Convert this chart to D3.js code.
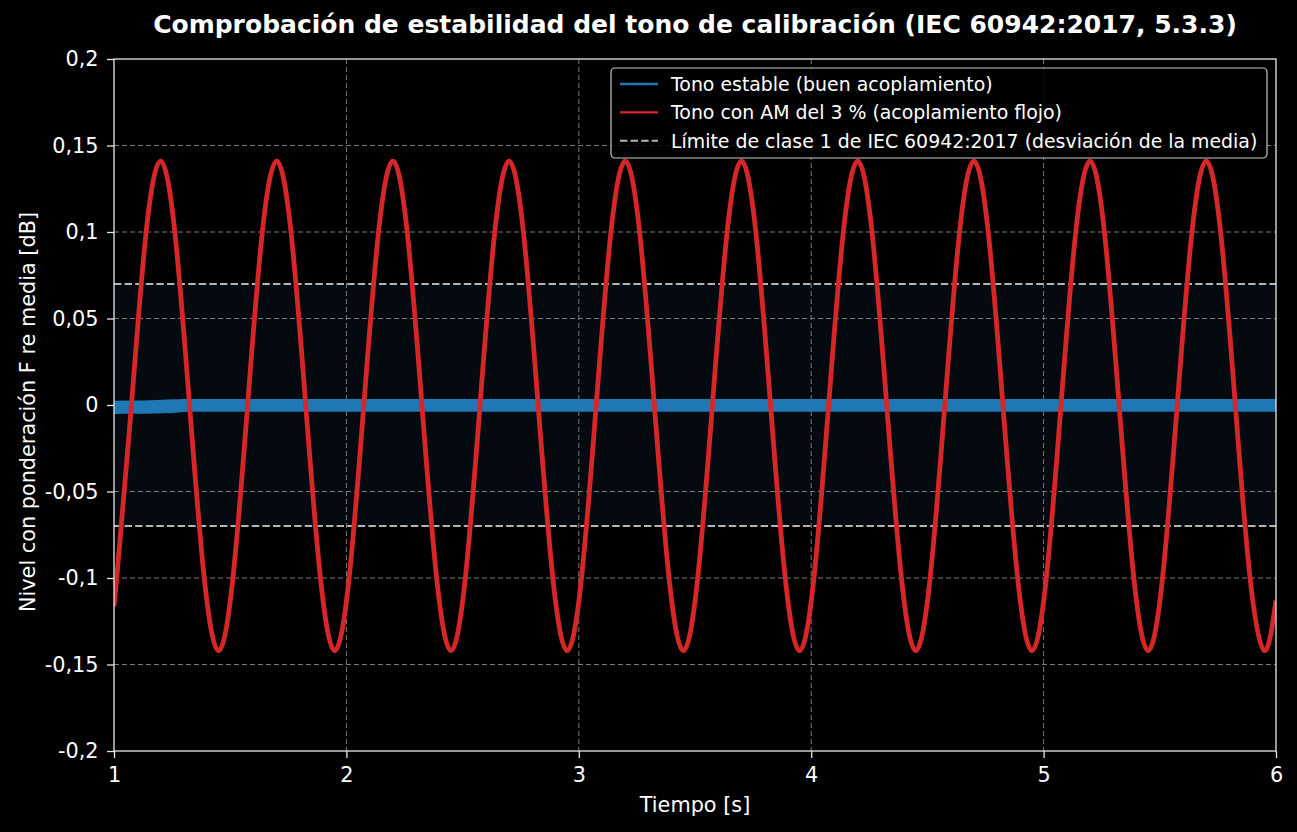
<!DOCTYPE html>
<html><head><meta charset="utf-8">
<script src="https://cdn.jsdelivr.net/npm/d3@7"></script>
<style>
html,body{margin:0;padding:0;background:#000;}
svg{display:block;font-family:"DejaVu Sans",sans-serif;}
</style></head>
<body><svg id="c" width="1297" height="832"></svg>
<script>
// ---- data ----
const amTime = [1.0,
 1.0125,1.075,1.1375,1.2,1.2625,1.325,1.3875,1.45,
 1.5125,1.575,1.6375,1.7,1.7625,1.825,1.8875,1.95,
 2.0125,2.075,2.1375,2.2,2.2625,2.325,2.3875,2.45,
 2.5125,2.575,2.6375,2.7,2.7625,2.825,2.8875,2.95,
 3.0125,3.075,3.1375,3.2,3.2625,3.325,3.3875,3.45,
 3.5125,3.575,3.6375,3.7,3.7625,3.825,3.8875,3.95,
 4.0125,4.075,4.1375,4.2,4.2625,4.325,4.3875,4.45,
 4.5125,4.575,4.6375,4.7,4.7625,4.825,4.8875,4.95,
 5.0125,5.075,5.1375,5.2,5.2625,5.325,5.3875,5.45,
 5.5125,5.575,5.6375,5.7,5.7625,5.825,5.8875,5.95,
 6.0];
const amLevel = [-0.114,
 -0.099,0,0.099,0.141,0.099,0,-0.099,-0.142,
 -0.099,0,0.099,0.141,0.099,0,-0.099,-0.142,
 -0.099,0,0.099,0.141,0.099,0,-0.099,-0.142,
 -0.099,0,0.099,0.141,0.099,0,-0.099,-0.142,
 -0.099,0,0.099,0.141,0.099,0,-0.099,-0.142,
 -0.099,0,0.099,0.141,0.099,0,-0.099,-0.142,
 -0.099,0,0.099,0.141,0.099,0,-0.099,-0.142,
 -0.099,0,0.099,0.141,0.099,0,-0.099,-0.142,
 -0.099,0,0.099,0.141,0.099,0,-0.099,-0.142,
 -0.099,0,0.099,0.141,0.099,0,-0.099,-0.142,
 -0.113];
const stableTime  = [1.0, 1.12, 1.25, 1.3, 1.33, 6.0];
const stableUpper = [0.0025, 0.0026, 0.0033, 0.0035, 0.0035, 0.0035];
const stableLower = [-0.0052, -0.0051, -0.0046, -0.0041, -0.0039, -0.0039];
const classLimit = 0.07;
const xTicks = [1, 2, 3, 4, 5, 6];
const yTicks = [-0.2, -0.15, -0.1, -0.05, 0, 0.05, 0.1, 0.15, 0.2];
const legendLabels = [
 "Tono estable (buen acoplamiento)",
 "Tono con AM del 3 % (acoplamiento flojo)",
 "Límite de clase 1 de IEC 60942:2017 (desviación de la media)"];
const titleText = "Comprobación de estabilidad del tono de calibración (IEC 60942:2017, 5.3.3)";
const xLabel = "Tiempo [s]";
const yLabel = "Nivel con ponderación F re media [dB]";

// ---- layout ----
const W = 1297, H = 832;
const m = {left:114, right:1276, top:59, bottom:751};
const svg = d3.select("#c");
svg.append("rect").attr("width",W).attr("height",H).attr("fill","#000");

const x = d3.scaleLinear().domain([1,6]).range([m.left,m.right]);
const y = d3.scaleLinear().domain([-0.2,0.2]).range([m.bottom,m.top]);
const fmt = v => (Math.abs(v)<1e-9 ? "0" : String(+v.toFixed(2)).replace(".",","));

const clipId = "clipPlot";
svg.append("clipPath").attr("id",clipId).append("rect")
  .attr("x",m.left).attr("y",m.top).attr("width",m.right-m.left).attr("height",m.bottom-m.top);

// tolerance band
svg.append("rect").attr("x",m.left).attr("width",m.right-m.left)
  .attr("y",y(classLimit)).attr("height",y(-classLimit)-y(classLimit))
  .attr("fill","#050a10");

// grid
const grid = svg.append("g").attr("stroke","#7a7a7a").attr("stroke-width",1).attr("stroke-dasharray","5,3");
xTicks.forEach(t=>{ if(t>1&&t<6) grid.append("line").attr("x1",x(t)).attr("x2",x(t)).attr("y1",m.top).attr("y2",m.bottom);});
yTicks.forEach(t=>{ if(t>-0.2&&t<0.2) grid.append("line").attr("x1",m.left).attr("x2",m.right).attr("y1",y(t)).attr("y2",y(t));});

// class limit lines
[classLimit,-classLimit].forEach(v=>{
  svg.append("line").attr("x1",m.left).attr("x2",m.right).attr("y1",y(v)).attr("y2",y(v))
    .attr("stroke","#b4b4b4").attr("stroke-width",2).attr("stroke-dasharray","7.4,3.2");
});

const plot = svg.append("g").attr("clip-path",`url(#${clipId})`);
// stable tone band
const stableData = stableTime.map((t,i)=>({t,u:stableUpper[i],l:stableLower[i]}));
plot.append("path").datum(stableData)
  .attr("d", d3.area().x(d=>x(d.t)).y0(d=>y(d.l)).y1(d=>y(d.u)).curve(d3.curveMonotoneX))
  .attr("fill","#1f77b4");
// AM tone
const amData = amTime.map((t,i)=>({t,v:amLevel[i]}));
plot.append("path").datum(amData)
  .attr("d", d3.line().x(d=>x(d.t)).y(d=>y(d.v)).curve(d3.curveNatural))
  .attr("fill","none").attr("stroke","#d62728").attr("stroke-width",4.8).attr("stroke-linejoin","round");

// axes
const axisColor = "#e6e6e6";
const xa = svg.append("g").attr("transform",`translate(0,${m.bottom})`)
  .call(d3.axisBottom(x).tickValues(xTicks).tickFormat(d3.format("d")).tickSize(7).tickPadding(9));
const ya = svg.append("g").attr("transform",`translate(${m.left},0)`)
  .call(d3.axisLeft(y).tickValues(yTicks).tickFormat(fmt).tickSize(7).tickPadding(8.5));
[xa,ya].forEach(a=>{
  a.selectAll("path").remove();
  a.selectAll("line").attr("stroke",axisColor).attr("stroke-width",1.3);
  a.selectAll("text").attr("fill","#fff").style("font-size","20.8px").style("font-family","DejaVu Sans");
});
// spines
svg.append("rect").attr("x",m.left).attr("y",m.top).attr("width",m.right-m.left).attr("height",m.bottom-m.top)
  .attr("fill","none").attr("stroke",axisColor).attr("stroke-width",1.3);

// labels
svg.append("text").attr("x",(m.left+m.right)/2).attr("y",33).attr("text-anchor","middle")
  .attr("fill","#fff").style("font-size","25px").style("font-weight","bold").text(titleText);
svg.append("text").attr("x",(m.left+m.right)/2).attr("y",812).attr("text-anchor","middle")
  .attr("fill","#fff").style("font-size","20.8px").text(xLabel);
svg.append("text").attr("transform",`translate(35,412) rotate(-90)`).attr("text-anchor","middle")
  .attr("fill","#fff").style("font-size","20.8px").text(yLabel);

// legend
const lg = svg.append("g");
lg.append("rect").attr("x",611).attr("y",68).attr("width",656).attr("height",90).attr("rx",4)
  .attr("fill","#000").attr("fill-opacity",0.85).attr("stroke","#c8c8c8").attr("stroke-width",1.2);
const lgStyles = [
  {c:"#1f77b4",w:2.4,d:null},
  {c:"#d62728",w:2.4,d:null},
  {c:"#b4b4b4",w:2,d:"7.4,3.2"}];
legendLabels.forEach((lab,i)=>{
  const yy = 84 + i*28.4;
  const ln = lg.append("line").attr("x1",620).attr("x2",658).attr("y1",yy).attr("y2",yy)
    .attr("stroke",lgStyles[i].c).attr("stroke-width",lgStyles[i].w);
  if(lgStyles[i].d) ln.attr("stroke-dasharray",lgStyles[i].d);
  lg.append("text").attr("x",671).attr("y",yy+6.8).attr("fill","#fff").style("font-size","18.9px").text(lab);
});
</script></body></html>
